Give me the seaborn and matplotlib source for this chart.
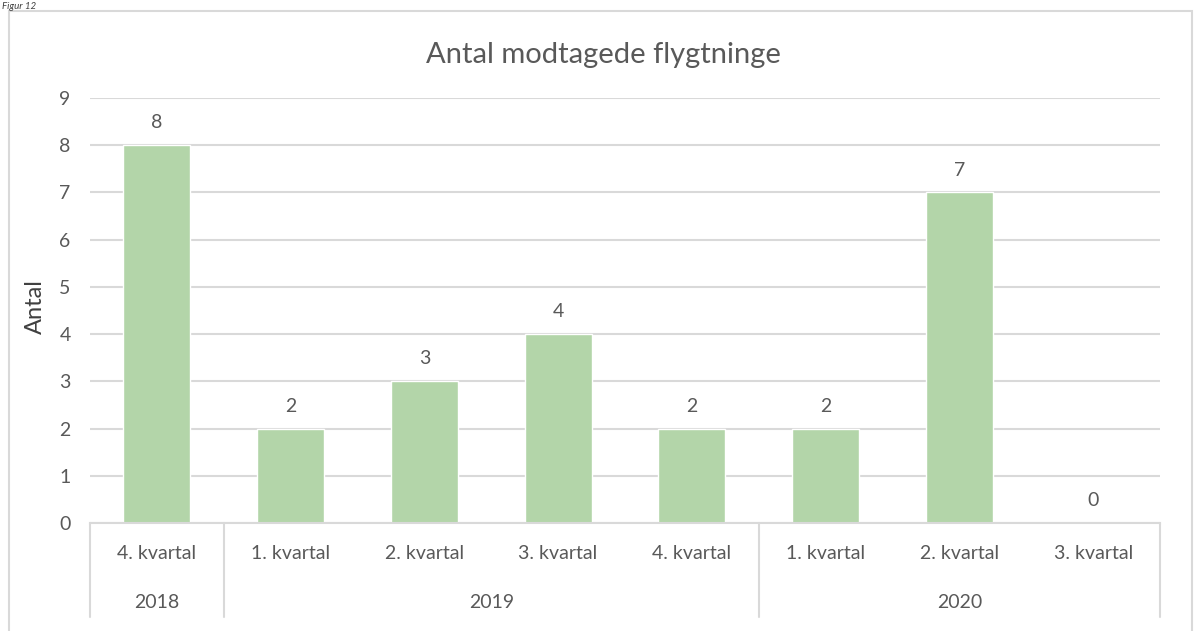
import matplotlib
matplotlib.use("Agg")
import matplotlib.pyplot as plt
import matplotlib.transforms as mtransforms
from matplotlib.patches import Rectangle
import seaborn as sns
import pandas as pd

# Data
years = ["2018", "2019", "2019", "2019", "2019", "2020", "2020", "2020"]
quarters = ["4. kvartal", "1. kvartal", "2. kvartal", "3. kvartal",
            "4. kvartal", "1. kvartal", "2. kvartal", "3. kvartal"]
values = [8, 2, 3, 4, 2, 2, 7, 0]
year_groups = ["2018", "2019", "2020"]

sns.set_style("white")
plt.rcParams['font.family'] = ['Lato', 'DejaVu Sans']

TXT = "#595959"
GRID = "#D9D9D9"
BAR = "#B3D5A9"
FS = 14

df = pd.DataFrame({"periode": [f"{y} {q}" for y, q in zip(years, quarters)],
                   "antal": values})

fig = plt.figure(figsize=(11.94, 6.31), dpi=100)
ax = fig.add_axes([90/1194, 1-523/631, (1160-90)/1194, (523-98)/631])

sns.barplot(data=df, x="periode", y="antal", color=BAR, width=0.5,
            saturation=1, ax=ax, order=list(df["periode"]))

ax.set_ylim(0, 9)
ax.set_xlim(-0.5, len(values) - 0.5)
ax.set_yticks(range(0, 10))
ax.yaxis.grid(True, color=GRID, linewidth=1.5)
ax.set_axisbelow(True)
for s in ["top", "right", "left"]:
    ax.spines[s].set_visible(False)
ax.spines["bottom"].set_color(GRID)
ax.spines["bottom"].set_linewidth(1.5)
ax.set_xlabel("")
ax.set_ylabel("")
ax.set_xticks(range(len(quarters)))
ax.set_xticklabels(quarters)
ax.tick_params(axis="x", length=0, pad=16, labelsize=FS, labelcolor=TXT)
ax.tick_params(axis="y", length=0, pad=14, labelsize=FS, labelcolor=TXT)

for c in ax.containers:
    ax.bar_label(c, labels=[str(v) for v in values], padding=10,
                 fontsize=FS, color=TXT)

trans = mtransforms.blended_transform_factory(ax.transData, ax.transAxes)
# group separators
idx = 0
bounds = [-0.5]
centers = []
for g in year_groups:
    n = years.count(g)
    centers.append(idx + (n - 1) / 2)
    idx += n
    bounds.append(idx - 0.5)
for b in bounds:
    ax.plot([b, b], [0, -0.221], transform=trans, color=GRID, lw=1.5,
            clip_on=False)
for g, cx in zip(year_groups, centers):
    ax.text(cx, -0.188, g, transform=trans, ha="center", va="center",
            fontsize=FS, color=TXT)

fig.text(603/1194, 1-55/631, "Antal modtagede flygtninge", ha="center",
         va="center", fontsize=21, color=TXT)
fig.text(35/1194, 1-307/631, "Antal", rotation=90, ha="center", va="center",
         fontsize=17, color="#404040")

fig.text(0.002, 1-9/631, "Figur 12", ha="left", va="baseline",
         fontsize=7, style="italic", color="#404040")

fig.patches.append(Rectangle((9/1194, -0.02), (1192-9)/1194, 1-11/631+0.02,
                             transform=fig.transFigure, fill=False,
                             edgecolor=GRID, linewidth=1.5))

fig.savefig("out.png", dpi=100)
